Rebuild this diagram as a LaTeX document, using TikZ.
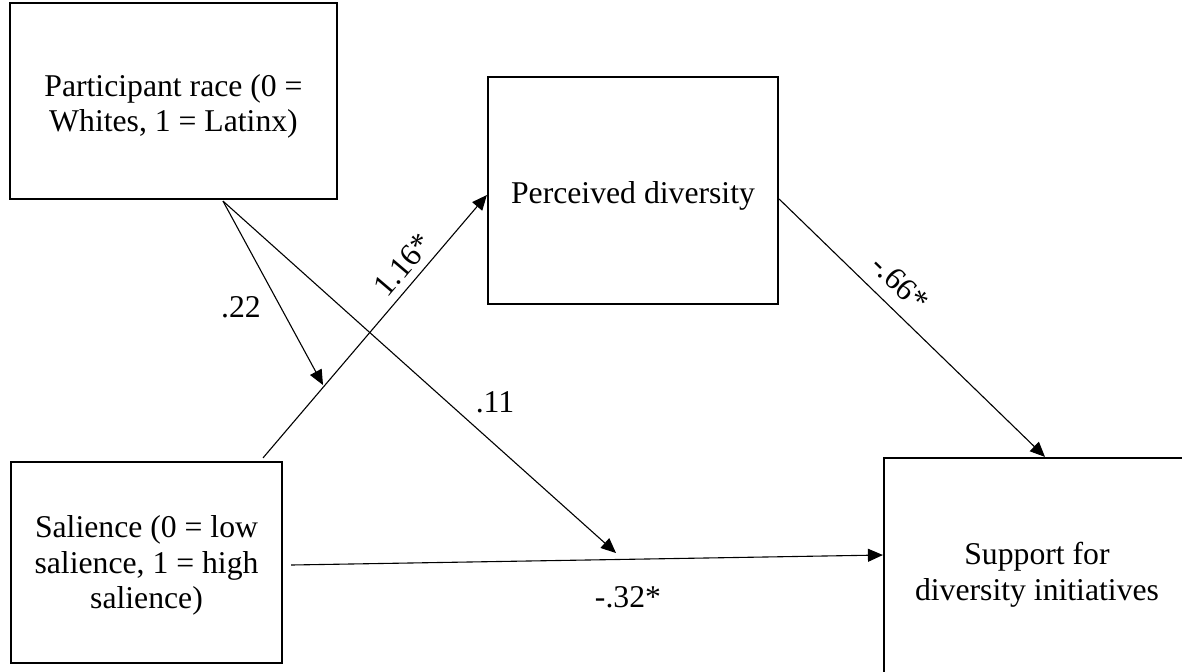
\documentclass[tikz,border=0pt]{standalone}
\usepackage{fontspec}
\setmainfont{Liberation Serif}
\usetikzlibrary{arrows.meta,calc}
\newcommand\myTopStrut[1]{\rule{0pt}{#1}}
\begin{document}
\begin{tikzpicture}[x=0.5pt,y=-0.5pt,
  box/.style={draw,line width=1.1pt,align=center,inner sep=0pt,font=\fontsize{15.85pt}{17.6pt}\selectfont},
  conn/.style={line width=0.55pt,-{Triangle[length=7.5pt,width=6.5pt]}},
  lab/.style={inner sep=0pt,font=\fontsize{15.85pt}{17.6pt}\selectfont}]
\useasboundingbox (0,0) rectangle (1182,671);
\begin{scope}
\clip (0,0) rectangle (1182,671);
\node[box,minimum width=163.5pt,minimum height=98pt] (race) at (173.5,101) {\myTopStrut{16pt}Participant race (0 =\\ Whites, 1 = Latinx)};
\node[box,minimum width=145pt,minimum height=113.5pt] (perc) at (633,190.5) {\myTopStrut{16pt}Perceived diversity};
\node[box,minimum width=135.5pt,minimum height=100.5pt] (sal) at (146.5,562.5) {\myTopStrut{14pt}Salience (0 = low\\ salience, 1 = high\\ salience)};
\node[box,minimum width=153pt,minimum height=112pt] (sup) at (1037,570) {\myTopStrut{16pt}Support for\\ diversity initiatives};

\coordinate (s1) at ($(sal.north)+(116.5,-3)$);
\coordinate (p1) at ($(perc.west)+(0,4.5)$);
\draw[conn] (s1) -- (p1);
\coordinate (r1) at ($(race.south)+(49.5,1)$);
\coordinate (m1) at (323,385);
\draw[conn] (r1) -- (m1);
\coordinate (m2) at (616,553);
\draw[conn] (r1) -- (m2);
\coordinate (s2) at ($(sal.east)+(8,2.5)$);
\coordinate (t2) at ($(sup.west)+(0,-15)$);
\draw[conn] (s2) -- (t2);
\coordinate (p2) at ($(perc.east)+(0,8.5)$);
\coordinate (t3) at ($(sup.north)+(8,0)$);
\draw[conn] (p2) -- (t3);

\node[lab] (l22) at (241,307) {.22};
\node[lab,rotate=49.6] (l116) at (403,265) {1.16*};
\node[lab] (l11) at (495,402) {.11};
\node[lab] (l32) at (628,597) {-.32*};
\node[lab,rotate=-44] (l66) at (900,283) {-.66*};
\end{scope}
\end{tikzpicture}
\end{document}
